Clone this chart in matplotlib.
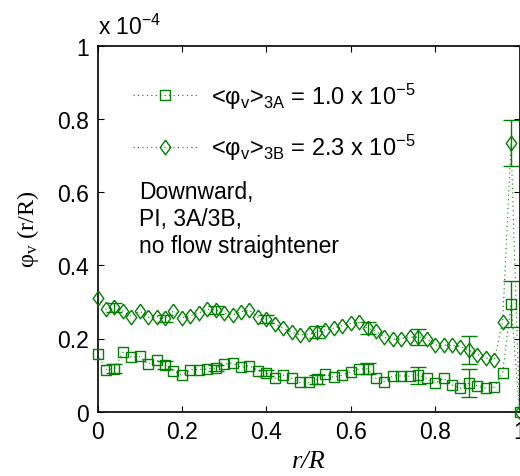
import matplotlib
matplotlib.use("Agg")
import matplotlib.pyplot as plt
from matplotlib.lines import Line2D
import numpy as np

# ---- data (values in units of 1e-4) ----
r = [0.00, 0.02, 0.04, 0.06, 0.08, 0.10, 0.12, 0.14, 0.16, 0.18,
     0.20, 0.22, 0.24, 0.26, 0.28, 0.30, 0.32, 0.34, 0.36, 0.38,
     0.40, 0.42, 0.44, 0.46, 0.48, 0.50, 0.52, 0.54, 0.56, 0.58,
     0.60, 0.62, 0.64, 0.66, 0.68, 0.70, 0.72, 0.74, 0.76, 0.78,
     0.80, 0.82, 0.84, 0.86, 0.88, 0.90, 0.92, 0.94, 0.96, 0.98, 1.00]

phi_3A = [0.158, 0.115, 0.117, 0.162, 0.149, 0.151, 0.130, 0.141, 0.128, 0.112,
          0.100, 0.115, 0.115, 0.117, 0.119, 0.130, 0.133, 0.121, 0.126, 0.112,
          0.106, 0.091, 0.100, 0.091, 0.080, 0.080, 0.088, 0.103, 0.094, 0.100,
          0.109, 0.117, 0.117, 0.091, 0.082, 0.098, 0.098, 0.097, 0.100, 0.091,
          0.078, 0.091, 0.073, 0.064, 0.078, 0.071, 0.064, 0.067, 0.106, 0.294, 0.0]

phi_3B = [0.310, 0.280, 0.285, 0.275, 0.260, 0.275, 0.258, 0.260, 0.255, 0.275,
          0.257, 0.262, 0.270, 0.280, 0.278, 0.270, 0.264, 0.273, 0.278, 0.258,
          0.253, 0.240, 0.228, 0.217, 0.210, 0.212, 0.217, 0.224, 0.228, 0.235,
          0.241, 0.244, 0.228, 0.220, 0.203, 0.198, 0.200, 0.204, 0.204, 0.200,
          0.182, 0.182, 0.182, 0.178, 0.169, 0.156, 0.147, 0.141, 0.246, 0.734, 0.0]

err_r = [0.04, 0.16, 0.28, 0.40, 0.52, 0.64, 0.76, 0.88, 0.98]
err_3A = [0.012, 0.010, 0.008, 0.009, 0.013, 0.015, 0.023, 0.039, 0.062]
err_3B = [0.012, 0.010, 0.010, 0.010, 0.016, 0.017, 0.023, 0.038, 0.064]

legend_labels = [r"<$\mathregular{φ_v}$>$\mathregular{_{3A}}$ = 1.0 x 10$\mathregular{^{-5}}$",
                 r"<$\mathregular{φ_v}$>$\mathregular{_{3B}}$ = 2.3 x 10$\mathregular{^{-5}}$"]
note = "Downward,\nPI, 3A/3B,\nno flow straightener"
xticks = [0, 0.2, 0.4, 0.6, 0.8, 1]
yticks = [0, 0.2, 0.4, 0.6, 0.8, 1]

plt.rcParams['font.family'] = ['Liberation Sans', 'DejaVu Sans']
plt.rcParams['mathtext.fontset'] = 'custom'
plt.rcParams['mathtext.rm'] = 'Liberation Sans'

green = '#008000'
diamond = [(0, 1), (0.72, 0), (0, -1), (-0.72, 0), (0, 1)]
dots = (0, (1, 3))

fig = plt.figure(figsize=(5.2, 4.77), dpi=100)
ax = fig.add_axes([97.5/520, 1 - 412.7/477, 422/520, 366/477])

ax.plot(r, phi_3A, linestyle=dots, linewidth=0.8, color=green,
        marker='s', markersize=6.8, markerfacecolor='none', markeredgecolor=green,
        markeredgewidth=1.0, clip_on=False, zorder=3)
ax.plot(r, phi_3B, linestyle=dots, linewidth=0.8, color=green,
        marker=diamond, markersize=10.5, markerfacecolor='none', markeredgecolor=green,
        markeredgewidth=1.0, clip_on=False, zorder=3)

idx = [r.index(v) for v in err_r]
ax.errorbar(err_r, [phi_3A[i] for i in idx], yerr=err_3A, fmt='none',
            ecolor=green, elinewidth=1.0, capsize=6, capthick=1.0, zorder=2)
ax.errorbar(err_r, [phi_3B[i] for i in idx], yerr=err_3B, fmt='none',
            ecolor=green, elinewidth=1.0, capsize=6, capthick=1.0, zorder=2)

ax.set_xlim(0, 1)
ax.set_ylim(0, 1)
ax.set_xticks(xticks)
ax.set_yticks(yticks)
ax.set_xticklabels(['%g' % t for t in xticks])
ax.set_yticklabels(['%g' % t for t in yticks])
ax.tick_params(direction='in', length=4, width=0.8, labelsize=16.5,
               top=True, right=True, pad=6)
for s in ax.spines.values():
    s.set_linewidth(1.2)

ax.set_xlabel('r/R', family='Liberation Serif', style='italic', fontsize=19, labelpad=5)
ax.set_ylabel(r'$\mathregular{φ_v}$ (r/R)', family='Liberation Serif', fontsize=17.5, labelpad=12)

handles = [Line2D([], [], linestyle=dots, linewidth=0.8, color=green,
                  marker='s', markersize=6.8, markerfacecolor='none', markeredgecolor=green),
           Line2D([], [], linestyle=dots, linewidth=0.8, color=green,
                  marker=diamond, markersize=10.5, markerfacecolor='none', markeredgecolor=green)]
ax.legend(handles, legend_labels, loc='upper left', bbox_to_anchor=(0.085, 0.905),
          frameon=False, fontsize=17, handlelength=2.7, handletextpad=0.6,
          labelspacing=0.9, borderpad=0, borderaxespad=0)

ax.text(0.098, 0.632, note, transform=ax.transAxes, fontsize=16.5, va='top', ha='left',
        linespacing=1.2)

fig.text(98/520, 1 - 35/477, r'x 10$\mathregular{^{-4}}$', fontsize=16.5, ha='left', va='baseline')

fig.savefig('out.png', dpi=100)
